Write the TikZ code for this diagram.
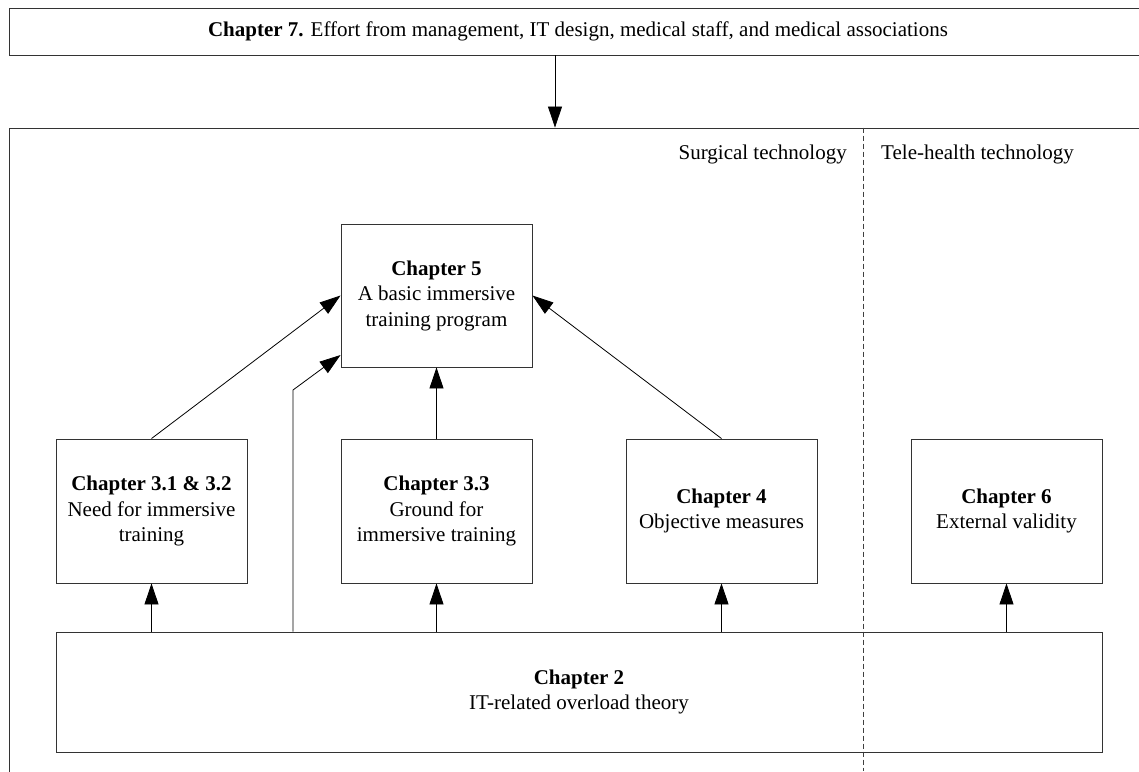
\documentclass[tikz,border=0pt]{standalone}
\usepackage{fontspec}
\setmainfont{Liberation Serif}
\usetikzlibrary{arrows.meta,calc}
\begin{document}
\begin{tikzpicture}[x=1pt,y=-1pt,
  every node/.style={font=\fontsize{21}{25.5}\selectfont, inner sep=0pt},
  chbox/.style={draw=black!80, line width=0.9pt, minimum width=191pt, minimum height=144pt, align=center},
  wide/.style={draw=black!80, line width=0.9pt},
  arr/.style={line width=0.8pt, -{Triangle[length=21pt,width=14pt]}},
  link/.style={line width=0.8pt},
  divider/.style={draw=black!75, line width=0.8pt, dash pattern=on 5pt off 3pt}]
\useasboundingbox (0,0) rectangle (1139,771);
\clip (0,0) rectangle (1139,771);
\fill[white] (0,0) rectangle (1139,771);

% top band and the framed area below it
\node[wide, minimum width=1138pt, minimum height=47pt] (top) at (578,31.5)
  {\textbf{Chapter 7.} Effort from management, IT design, medical staff, and medical associations};
\node[wide, minimum width=1138pt, minimum height=672pt] (frame) at (578,464) {};

\coordinate (drop) at (555,0);
\draw[arr] (top.south -| drop) -- (frame.north -| drop);

% split between the two technology areas
\coordinate (split) at (863,0);
\draw[divider] (frame.north -| split) -- (863,771);
\node[anchor=base east] (surg) at (847,159) {Surgical technology};
\node[anchor=base west] (tele) at (881,159) {Tele-health technology};

% chapter boxes
\node[chbox, minimum height=143pt] (ch5) at (436.5,295.5)
  {\textbf{Chapter 5}\\A basic immersive\\training program};
\node[chbox] (ch31) at (151.5,511) {\textbf{Chapter 3.1 \& 3.2}\\Need for immersive\\training};
\node[chbox] (ch33) at (436.5,511) {\textbf{Chapter 3.3}\\Ground for\\immersive training};
\node[chbox] (ch4) at (721.5,511) {\textbf{Chapter 4}\\Objective measures};
\node[chbox] (ch6) at (1006.5,511) {\textbf{Chapter 6}\\External validity};
\node[chbox, minimum width=1046pt, minimum height=120pt] (ch2) at (579,692)
  {\textbf{Chapter 2}\\IT-related overload theory};

% links into chapter 5
\draw[arr] (ch31.north) -- (ch5.west);
\draw[arr] (ch33.north) -- (ch5.south);
\draw[arr] (ch4.north) -- (ch5.east);
\coordinate (bend) at (293,390);
\draw[arr] (ch2.north -| bend) -- (bend) -- ([yshift=-59.5pt]ch5.west);

% links out of chapter 2
\draw[arr] (ch2.north -| ch31.south) -- (ch31.south);
\draw[arr] (ch2.north -| ch33.south) -- (ch33.south);
\draw[arr] (ch2.north -| ch4.south) -- (ch4.south);
\draw[arr] (ch2.north -| ch6.south) -- (ch6.south);
\end{tikzpicture}
\end{document}
